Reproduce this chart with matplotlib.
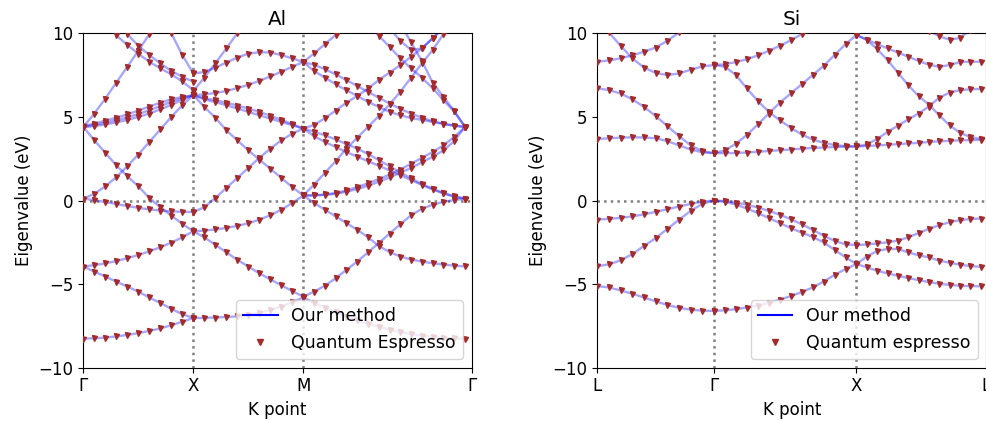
import numpy as np
import matplotlib
matplotlib.use("Agg")
import matplotlib.pyplot as plt
from matplotlib.lines import Line2D

nan = np.nan
plt.rcParams["font.size"] = 12

# ---- Al: path Gamma - X - M - Gamma (k in path units) ----
AL_TICK_POS = [0.0, 1.0, 2.0, 3.531]
AL_TICK_LABELS = ["Γ", "X", "M", "Γ"]
AL_SEGMENTS = [(0.0, 1.0), (1.0, 2.0), (2.0, 3.47)]

AL_GX = [
    [-8.26, -8.24, -8.20, -8.13, -8.04, -7.93, -7.80, -7.65, -7.46, -7.25, -7.03],
    [-3.95, -4.25, -4.55, -4.85, -5.15, -5.45, -5.80, -6.13, -6.48, -6.80, -7.03],
    [-3.95, -3.87, -3.76, -3.62, -3.45, -3.26, -3.04, -2.80, -2.52, -2.20, -1.84],
    [0.11, 0.02, -0.09, -0.21, -0.33, -0.44, -0.53, -0.60, -0.65, -0.68, -0.69],
    [4.40, 3.60, 2.85, 2.10, 1.45, 0.85, 0.15, -0.40, -0.90, -1.40, -1.84],
    [0.11, 0.40, 0.85, 1.40, 2.05, 2.75, 3.50, 4.25, 5.00, 5.70, 6.30],
    [4.45, 4.60, 4.78, 4.95, 5.15, 5.38, 5.62, 5.85, 6.05, 6.20, 6.30],
    [4.42, 4.52, 4.65, 4.80, 4.97, 5.17, 5.40, 5.65, 5.90, 6.12, 6.30],
    [4.38, 4.45, 4.55, 4.67, 4.82, 5.00, 5.20, 5.45, 5.72, 6.02, 6.30],
    [4.40, 5.20, 6.10, 7.05, 8.00, 8.95, 9.95, 10.90, nan, nan, nan],
    [nan, 11.40, 10.60, 9.88, 9.30, 8.78, 8.30, 7.90, 7.55, 7.12, 6.60],
    [nan, nan, nan, 10.65, 9.95, 9.25, 8.70, 8.20, 7.75, 7.40, 7.10],
    [nan, nan, nan, nan, nan, nan, nan, 11.30, 10.00, 8.70, 7.60],
]

AL_XM = [
    [-7.03, -7.02, -7.00, -6.97, -6.93, -6.85, -6.72, -6.55, -6.35, -6.08, -5.80],
    [-1.84, -2.20, -2.65, -3.10, -3.55, -3.95, -4.35, -4.72, -5.07, -5.42, -5.75],
    [-0.69, -0.40, 0.15, 0.75, 1.35, 1.95, 2.55, 3.10, 3.60, 4.00, 4.30],
    [-1.84, -1.80, -1.73, -1.64, -1.52, -1.36, -1.15, -0.88, -0.55, -0.15, 0.30],
    [6.30, 5.60, 4.95, 4.20, 3.60, 3.00, 2.45, 1.90, 1.35, 0.80, 0.30],
    [6.30, 6.12, 6.00, 5.85, 5.68, 5.50, 5.30, 5.07, 4.83, 4.57, 4.30],
    [6.30, 6.05, 5.88, 5.70, 5.50, 5.30, 5.10, 4.90, 4.70, 4.50, 4.30],
    [6.30, 6.35, 6.43, 6.55, 6.72, 6.92, 7.15, 7.42, 7.70, 8.00, 8.28],
    [7.60, 7.68, 7.95, 8.25, 8.55, 8.78, 8.87, 8.85, 8.70, 8.50, 8.28],
    [6.55, 7.35, 8.20, 9.10, 10.00, 10.95, nan, nan, nan, nan, nan],
]

AL_MG = [
    [-5.80, -6.12, -6.41, -6.69, -6.94, -7.17, -7.37, -7.56, -7.72, -7.87, -7.99, -8.09, -8.16, -8.22, -8.25, -8.26],
    [-5.75, -5.45, -5.10, -4.65, -4.15, -3.65, -3.10, -2.55, -1.98, -1.42, -0.88, -0.50, -0.25, -0.08, 0.03, 0.10],
    [4.30, 4.12, 3.90, 3.65, 3.38, 3.10, 2.78, 2.42, 2.05, 1.68, 1.32, 0.98, 0.70, 0.45, 0.25, 0.11],
    [4.30, 3.85, 3.50, 3.20, 2.90, 2.62, 2.35, 2.08, 1.80, 1.52, 1.22, 0.93, 0.66, 0.42, 0.23, 0.11],
    [0.30, -0.15, -0.55, -0.95, -1.35, -1.75, -2.20, -2.72, -3.08, -3.35, -3.53, -3.65, -3.75, -3.83, -3.90, -3.94],
    [0.30, 0.31, 0.36, 0.45, 0.60, 0.80, 1.03, 1.28, 1.55, 1.85, 2.20, 2.55, 2.90, 3.30, 3.80, 4.40],
    [0.30, 0.30, 0.33, 0.40, 0.52, 0.68, 0.88, 1.12, 1.38, 1.66, 1.95, 2.28, 2.62, 3.00, 3.55, 4.40],
    [0.30, 0.95, 1.65, 2.35, 3.10, 3.75, 4.40, 5.05, 5.75, 6.50, 7.35, 8.20, 9.00, 9.95, 10.90, nan],
    [nan, nan, nan, nan, nan, nan, 10.60, 9.85, 9.20, 8.50, 7.90, 7.35, 6.72, 6.00, 5.33, 4.40],
    [nan, nan, nan, nan, nan, nan, nan, nan, nan, 10.60, 9.45, 8.35, 7.05, 6.20, 5.35, 4.40],
    [nan, nan, nan, nan, nan, nan, nan, nan, 10.30, 9.55, 9.00, 9.10, 9.70, 10.40, nan, nan],
    [8.28, 8.80, 9.35, 9.90, 10.45, nan, nan, nan, nan, nan, nan, nan, nan, nan, nan, nan],
    [8.28, 8.12, 7.85, 7.55, 7.20, 6.85, 6.50, 6.15, 5.80, 5.48, 5.20, 4.95, 4.75, 4.58, 4.47, 4.40],
    [8.28, 7.75, 7.35, 6.95, 6.60, 6.25, 5.90, 5.60, 5.30, 5.10, 4.93, 4.82, 4.70, 4.58, 4.48, 4.40],
    [4.30, 4.52, 4.92, 5.38, 5.85, 6.25, 6.70, 7.20, 7.65, 8.10, 8.60, 9.10, 9.70, 10.30, nan, nan],
]

# ---- Si: path L - Gamma - X - L ----
SI_TICK_POS = [0.0, 1.061, 2.356, 3.537]
SI_TICK_LABELS = ["L", "Γ", "X", "L"]
SI_SEGMENTS = [(0.0, 1.061), (1.061, 2.356), (2.356, 3.484)]

SI_LG = [
    [-5.12, -5.20, -5.38, -5.58, -5.80, -6.03, -6.25, -6.42, -6.53, -6.59, -6.60],
    [-3.93, -3.82, -3.58, -3.20, -2.72, -2.25, -1.70, -1.15, -0.62, -0.20, 0.00],
    [-1.14, -1.10, -1.04, -0.95, -0.83, -0.68, -0.52, -0.36, -0.20, -0.07, 0.00],
    [3.68, 3.72, 3.76, 3.78, 3.77, 3.72, 3.55, 3.30, 3.05, 2.88, 2.83],
    [6.71, 6.60, 6.40, 6.05, 5.60, 5.05, 4.45, 3.85, 3.30, 2.95, 2.83],
    [8.30, 8.38, 8.50, 8.68, 8.90, 9.15, 9.55, 10.05, 10.60, nan, nan],
    [11.00, 10.05, 9.25, 8.50, 7.95, 7.63, 7.50, 7.60, 7.82, 8.02, 8.10],
]

SI_GX = [
    [-6.60, -6.57, -6.50, -6.40, -6.28, -6.12, -5.93, -5.72, -5.48, -5.20, -4.85, -4.45, -4.10, -3.80],
    [0.00, -0.08, -0.25, -0.48, -0.75, -1.05, -1.35, -1.65, -1.92, -2.18, -2.50, -2.95, -3.40, -3.80],
    [0.00, -0.04, -0.12, -0.25, -0.42, -0.62, -0.85, -1.12, -1.42, -1.75, -2.10, -2.42, -2.62, -2.67],
    [2.83, 2.83, 2.84, 2.87, 2.91, 2.96, 3.01, 3.05, 3.10, 3.14, 3.17, 3.20, 3.22, 3.23],
    [2.83, 3.00, 3.40, 3.92, 4.55, 5.20, 5.85, 6.40, 6.95, 7.50, 8.05, 8.70, 9.35, 9.90],
    [8.10, 8.00, 7.50, 6.70, 5.95, 5.30, 4.80, 4.35, 3.95, 3.65, 3.45, 3.32, 3.25, 3.23],
    [8.10, 8.15, 8.28, 8.45, 8.68, 8.95, 9.25, 9.58, 9.95, 10.35, nan, nan, nan, nan],
]

SI_XL = [
    [-3.80, -4.00, -4.20, -4.36, -4.50, -4.64, -4.76, -4.88, -4.98, -5.05, -5.10, -5.12, -5.13],
    [-3.80, -3.35, -3.02, -2.90, -2.90, -3.10, -3.28, -3.40, -3.60, -3.72, -3.84, -3.92, -3.97],
    [-2.67, -2.63, -2.57, -2.50, -2.40, -2.20, -1.95, -1.70, -1.48, -1.30, -1.18, -1.11, -1.08],
    [3.23, 3.26, 3.29, 3.33, 3.37, 3.41, 3.45, 3.50, 3.54, 3.57, 3.60, 3.61, 3.62],
    [3.23, 3.35, 3.68, 4.10, 4.47, 4.85, 5.20, 5.62, 6.15, 6.45, 6.60, 6.65, 6.67],
    [9.90, 9.60, 9.05, 8.40, 7.65, 6.90, 6.25, 5.73, 5.10, 4.50, 4.05, 3.80, 3.68],
    [9.90, 9.62, 9.35, 9.10, 8.85, 8.60, 8.35, 8.12, 8.00, 8.10, 8.28, 8.30, 8.30],
    [nan, nan, nan, nan, nan, nan, 10.70, 10.15, 9.82, 9.62, 9.72, 10.20, 10.90],
]


def draw_panel(ax, segments, seg_ranges, tick_pos, tick_labels, title, qe_label):
    for bands, (k0, k1) in zip(segments, seg_ranges):
        for band in bands:
            k = np.linspace(k0, k1, len(band))
            ax.plot(k, band, color="blue", alpha=0.35, lw=1.7, zorder=2)
            ax.plot(k, band, ls="none", marker="v", ms=3.6, color="brown", zorder=3)

    # high-symmetry points and Fermi level
    for x in tick_pos[1:-1]:
        ax.axvline(x, color="gray", ls=":", lw=1.8, zorder=1)
    ax.axhline(0, color="gray", ls=":", lw=1.8, zorder=1)

    ax.set_xlim(tick_pos[0], tick_pos[-1])
    ax.set_ylim(-10, 10)
    ax.set_yticks([-10, -5, 0, 5, 10])
    ax.set_xticks(tick_pos)
    ax.set_xticklabels(tick_labels)
    ax.set_xlabel("K point")
    ax.set_ylabel("Eigenvalue (eV)")
    ax.set_title(title)

    handles = [
        Line2D([], [], color="blue", lw=1.5),
        Line2D([], [], ls="none", marker="v", ms=5, color="brown"),
    ]
    ax.legend(handles, ["Our method", qe_label], loc="lower right", fontsize=12.5)


fig = plt.figure(figsize=(9.86, 4.21), dpi=100)
ax_al = fig.add_axes([0.0845, 0.1266, 0.3939, 0.7943])
ax_si = fig.add_axes([0.6058, 0.1266, 0.3946, 0.7943])

draw_panel(ax_al, [AL_GX, AL_XM, AL_MG], AL_SEGMENTS, AL_TICK_POS, AL_TICK_LABELS,
           "Al", "Quantum Espresso")
draw_panel(ax_si, [SI_LG, SI_GX, SI_XL], SI_SEGMENTS, SI_TICK_POS, SI_TICK_LABELS,
           "Si", "Quantum espresso")

fig.savefig("out.png", dpi=100)
